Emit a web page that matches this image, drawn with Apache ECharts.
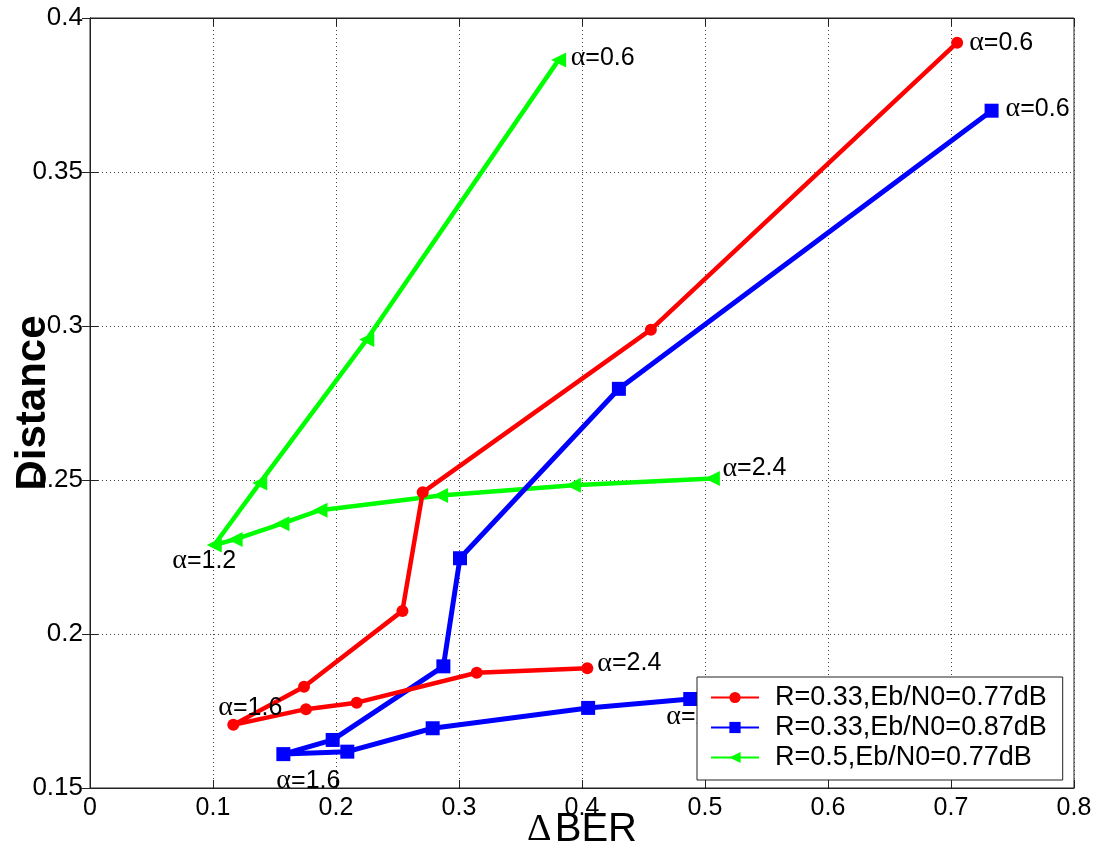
<!DOCTYPE html>
<html>
<head>
<meta charset="utf-8">
<script src="https://cdn.jsdelivr.net/npm/echarts@6/dist/echarts.min.js"></script>
<style>
html,body{margin:0;padding:0;background:#fff;}
#chart{width:1097px;height:848px;}
</style>
</head>
<body>
<div id="chart"></div>
<script>
// ---- data ----
const seriesNames = ['R=0.33,Eb/N0=0.77dB', 'R=0.33,Eb/N0=0.87dB', 'R=0.5,Eb/N0=0.77dB'];
const redX = [0.705, 0.456, 0.2705, 0.254, 0.174, 0.1165, 0.1756, 0.2168, 0.3144, 0.4043];
const redY = [0.392, 0.2988, 0.2460, 0.2075, 0.1829, 0.1705, 0.1756, 0.1777, 0.1874, 0.1889];
const redLabels = ['α=0.6', '', '', '', '', 'α=1.6', '', '', '', 'α=2.4'];
const blueX = [0.733, 0.430, 0.3008, 0.2873, 0.1973, 0.1572, 0.2092, 0.2786, 0.405, 0.488];
const blueY = [0.3699, 0.2796, 0.2246, 0.1895, 0.1656, 0.1610, 0.1618, 0.1694, 0.1760, 0.1789];
const blueLabels = ['α=0.6', '', '', '', '', 'α=1.6', '', '', '', 'α=2.4'];
const greenX = [0.381, 0.225, 0.138, 0.101, 0.118, 0.156, 0.187, 0.285, 0.393, 0.506];
const greenY = [0.3864, 0.2956, 0.2490, 0.2289, 0.2307, 0.2358, 0.2402, 0.2450, 0.2483, 0.2505];
const greenLabels = ['α=0.6', '', '', 'α=1.2', '', '', '', '', '', 'α=2.4'];
const xAxisNameParts = ['Δ', 'BER'];
const yAxisName = 'Distance';

// ---- styling (label offsets relative to point) ----
const labelOffsets = [
  {0: [12, 0], 5: [-15, -17], 9: [10, -5]},
  {0: [14, -2], 5: [-7, 27], 9: [-24, 18]},
  {0: [12, -2], 3: [-42, 16], 9: [10, -10]}
];
const colors = ['#ff0000', '#0000ff', '#00ff00'];
const symbols = ['circle', 'rect', 'path://M0,5 L10,0 L10,10 Z'];
const symbolSizes = [12, 14, 15];
const lineWidths = [4.5, 5, 4.5];

function buildData(xs, ys, labels, offs) {
  return xs.map((x, i) => {
    const item = {value: [x, ys[i]]};
    if (labels[i]) {
      item.label = {
        show: true,
        position: 'inside',
        align: 'left',
        verticalAlign: 'middle',
        offset: offs[i] || [10, 0],
        formatter: () => '{a|α}{b|' + labels[i].slice(1) + '}',
        rich: {
          a: {fontFamily: 'Liberation Serif', fontSize: 28, color: '#000'},
          b: {fontFamily: 'Liberation Sans', fontSize: 25, color: '#000'}
        }
      };
    }
    return item;
  });
}

const allX = [redX, blueX, greenX];
const allY = [redY, blueY, greenY];
const allL = [redLabels, blueLabels, greenLabels];

const series = seriesNames.map((name, k) => ({
  name: name,
  type: 'line',
  data: buildData(allX[k], allY[k], allL[k], labelOffsets[k]),
  color: colors[k],
  symbol: symbols[k],
  symbolSize: symbolSizes[k],
  showAllSymbol: true,
  lineStyle: {width: lineWidths[k], color: colors[k]},
  itemStyle: {color: colors[k]},
  label: {show: false},
  emphasis: {disabled: true},
  animation: false,
  z: 3 - k
}));

const chart = echarts.init(document.getElementById('chart'), null, {renderer: 'canvas'});
const gridLine = {show: true, lineStyle: {color: '#444', type: [1, 3], width: 1}};
chart.setOption({
  backgroundColor: '#fff',
  animation: false,
  grid: {left: 90, right: 23, top: 18, bottom: 60, containLabel: false, outerBoundsMode: 'none',
         show: true, borderColor: '#222', borderWidth: 1, backgroundColor: '#fff'},
  legend: {
    show: true,
    orient: 'vertical',
    left: 697,
    top: 677,
    backgroundColor: '#fff',
    borderColor: '#222',
    borderWidth: 1,
    padding: [7, 16, 9, 13],
    itemWidth: 48,
    itemHeight: 14,
    itemGap: 3,
    z: 10,
    textStyle: {fontFamily: 'Liberation Sans', fontSize: 27, color: '#000', lineHeight: 27, padding: [0, 0, 0, 11]},
    data: seriesNames
  },
  xAxis: [{
    type: 'value', min: 0, max: 0.8, interval: 0.1,
    name: '{d|' + xAxisNameParts[0] + '} {t|' + xAxisNameParts[1] + '}',
    nameLocation: 'middle', nameGap: 22, nameMoveOverlap: false,
    nameTextStyle: {
      verticalAlign: 'top',
      rich: {
        d: {fontFamily: 'Liberation Serif', fontSize: 38, color: '#000'},
        t: {fontFamily: 'Liberation Sans', fontSize: 40, color: '#000'}
      }
    },
    axisLine: {show: true, lineStyle: {color: '#222', width: 1}},
    axisTick: {show: true, inside: true, length: 8, lineStyle: {color: '#222'}},
    axisLabel: {fontFamily: 'Liberation Sans', fontSize: 25, color: '#000', margin: 8},
    splitLine: gridLine
  }, {
    type: 'value', min: 0, max: 0.8, interval: 0.1, position: 'top',
    axisLine: {show: true, lineStyle: {color: '#222', width: 1}},
    axisTick: {show: true, inside: true, length: 8, lineStyle: {color: '#222'}},
    axisLabel: {show: false},
    splitLine: {show: false}
  }],
  yAxis: [{
    type: 'value', min: 0.15, max: 0.4, interval: 0.05,
    name: yAxisName, nameLocation: 'middle', nameGap: 36, nameRotate: 90, nameMoveOverlap: false,
    nameTextStyle: {fontFamily: 'Liberation Sans', fontSize: 42, fontWeight: 'bold', color: '#000'},
    axisLine: {show: true, lineStyle: {color: '#222', width: 1}},
    axisTick: {show: true, inside: true, length: 8, lineStyle: {color: '#222'}},
    axisLabel: {fontFamily: 'Liberation Sans', fontSize: 26, color: '#000', margin: 7},
    splitLine: gridLine
  }, {
    type: 'value', min: 0.15, max: 0.4, interval: 0.05, position: 'right',
    axisLine: {show: true, lineStyle: {color: '#222', width: 1}},
    axisTick: {show: true, inside: true, length: 8, lineStyle: {color: '#222'}},
    axisLabel: {show: false},
    splitLine: {show: false}
  }],
  series: series
});
</script>
</body>
</html>
